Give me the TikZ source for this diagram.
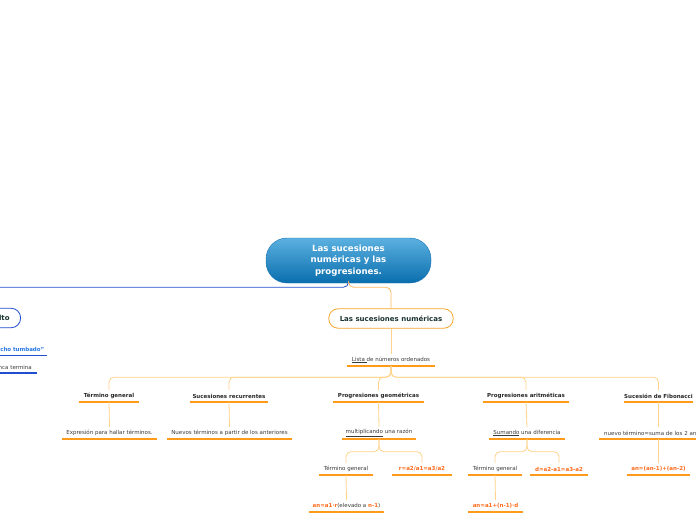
\documentclass[tikz,border=0pt]{standalone}
\usepackage{fontspec}
\setmainfont{DejaVu Sans}
\definecolor{rootlight}{HTML}{5BB0E0}
\definecolor{rootdark}{HTML}{0A6EAD}
\definecolor{rootedge}{HTML}{1A74B4}
\definecolor{connor}{HTML}{FFD38A}
\definecolor{ulor}{HTML}{FF9A1A}
\definecolor{pillor}{HTML}{F7A42B}
\definecolor{bluel}{HTML}{1F4FD0}
\definecolor{formula}{HTML}{FF6A1A}
\definecolor{ochotxt}{HTML}{2A78E4}
\definecolor{darktxt}{HTML}{1B3330}
\definecolor{greytxt}{HTML}{3A3A3A}
\begin{document}
\begin{tikzpicture}[x=1pt, y=-1pt,
        root/.style={draw=rootedge, top color=rootlight, bottom color=rootdark,
                     rounded corners=21pt, minimum width=165pt, minimum height=45pt,
                     align=center, text=white, font=\fontsize{8.6}{11.5}\selectfont\bfseries},
        pill/.style={draw=pillor, fill=white, line width=0.8pt, rounded corners=9.5pt,
                     minimum height=19.5pt, inner xsep=11pt, text=darktxt,
                     font=\fontsize{7}{8}\selectfont\bfseries},
        sub/.style={inner xsep=0pt, inner ysep=0pt, minimum height=12pt, text=greytxt,
                    font=\fontsize{5.5}{6.5}\selectfont},
        topic/.style={sub, text=black!85, font=\fontsize{5.5}{6.5}\selectfont\bfseries},
        frm/.style={sub, text=formula, font=\fontsize{5.5}{6.5}\selectfont\bfseries},
        uline/.style={draw=ulor, line width=1.5pt},
        conn/.style={draw=connor, line width=0.8pt, rounded corners=5pt},
        bconn/.style={draw=bluel, line width=0.8pt, rounded corners=5pt}
    ]
    \useasboundingbox (0,0) rectangle (696,520);

    % centre and first branches
    \node[root] (root) at (348.5,260.5) {Las sucesiones\\numéricas y las\\progresiones.};
    \node[pill] (lsn) at (391,318.5) {Las sucesiones numéricas};
    \node[pill, draw=bluel, anchor=east, minimum width=80pt, text width=58pt, align=right] (inf) at (21,318) {lto};

    \node[topic, text=ochotxt, anchor=east, inner xsep=2.5pt, minimum width=132pt,
          text width=127pt, align=right] (ocho) at (47,349.5) {cho tumbado”};
    \node[sub, anchor=east, inner xsep=5pt, minimum width=112pt,
          text width=102pt, align=right] (nunca) at (37,367) {nca termina};

    \node[sub, minimum width=87pt] (lista) at (391,360) {\underline{Lista }de números ordenados};

    % second level
    \node[topic, minimum width=60pt] (tg)  at (109,396)   {Término general};
    \node[topic, minimum width=78pt] (rec) at (229,396)   {Sucesiones recurrentes};
    \node[topic, minimum width=90pt] (geo) at (378.5,396) {Progresiones geométricas};
    \node[topic, minimum width=86pt] (ari) at (526,396)   {Progresiones aritméticas};
    \node[topic, minimum width=68pt] (fib) at (658.5,396) {Sucesión de Fibonacci};

    \node[sub, minimum width=95pt]  (expr) at (109.5,433) {Expresión para hallar términos.};
    \node[sub, minimum width=125pt] (nuev) at (229.5,433) {Nuevos términos a partir de los anteriores};
    \node[sub, minimum width=74pt]  (mult) at (379,433)   {\underline{multiplicando} una razón};
    \node[sub, minimum width=76pt]  (suma) at (527,433)   {\underline{Sumando} una diferencia};
    \node[sub, anchor=west, inner xsep=5pt, minimum width=119pt, text width=109pt,
          align=left] (suc) at (599,433) {nuevo término=suma de los 2 an};

    % third level
    \node[sub, minimum width=54pt] (tgg)  at (346,469)   {Término general};
    \node[frm, minimum width=60pt] (rfor) at (422,469)   {r=a2/a1=a3/a2};
    \node[sub, minimum width=75pt] (ang)  at (346.5,506) {{\color{formula}\bfseries an=a1·r}(elevado a {\color{formula}\bfseries n-1})};
    \node[sub, minimum width=54pt] (tga)  at (495,469)   {Término general};
    \node[frm, minimum width=58pt] (dfor) at (559,469)   {d=a2-a1=a3-a2};
    \node[frm, minimum width=55pt] (ana)  at (495.5,506) {an=a1+(n-1)·d};
    \node[frm, minimum width=63pt] (fibf) at (658.5,469) {an=(an-1)+(an-2)};

    % underlines
    \foreach \n in {lista,tg,rec,geo,ari,fib,expr,nuev,mult,suma,suc,tgg,rfor,ang,tga,dfor,ana,fibf}
        \draw[uline] (\n.south west) -- (\n.south east);
    \foreach \n in {ocho,nunca}
        \draw[uline, draw=bluel] (\n.south west) -- (\n.south east);

    % connectors
    \draw[bconn] (root.south) -- ++(0,4) -| (inf.north);
    \draw[conn, draw=ulor!70] (root.south) -- ++(0,4) -| (lsn.north);
    \draw[conn] (lsn.south) -- (lista.north);
    \foreach \c in {tg,rec,geo,ari,fib}
        \draw[conn] (lista.south) -- ++(0,11) -| (\c.north);
    \draw[conn] (tg.south)  -- (expr.north);
    \draw[conn] (rec.south) -- (nuev.north);
    \draw[conn] (geo.south) -- (mult.north);
    \draw[conn] (ari.south) -- (suma.north);
    \draw[conn] (fib.south) -- (fib.south |- suc.north);
    \foreach \c in {tgg,rfor}
        \draw[conn] (mult.south) -- ++(0,12.5) -| (\c.north);
    \foreach \c in {tga,dfor}
        \draw[conn] (suma.south) -- ++(0,12.5) -| (\c.north);
    \draw[conn] (tgg.south) -- (ang.north);
    \draw[conn] (tga.south) -- (ana.north);
    \draw[conn] (fib.south |- suc.south) -- (fibf.north);
\end{tikzpicture}
\end{document}
